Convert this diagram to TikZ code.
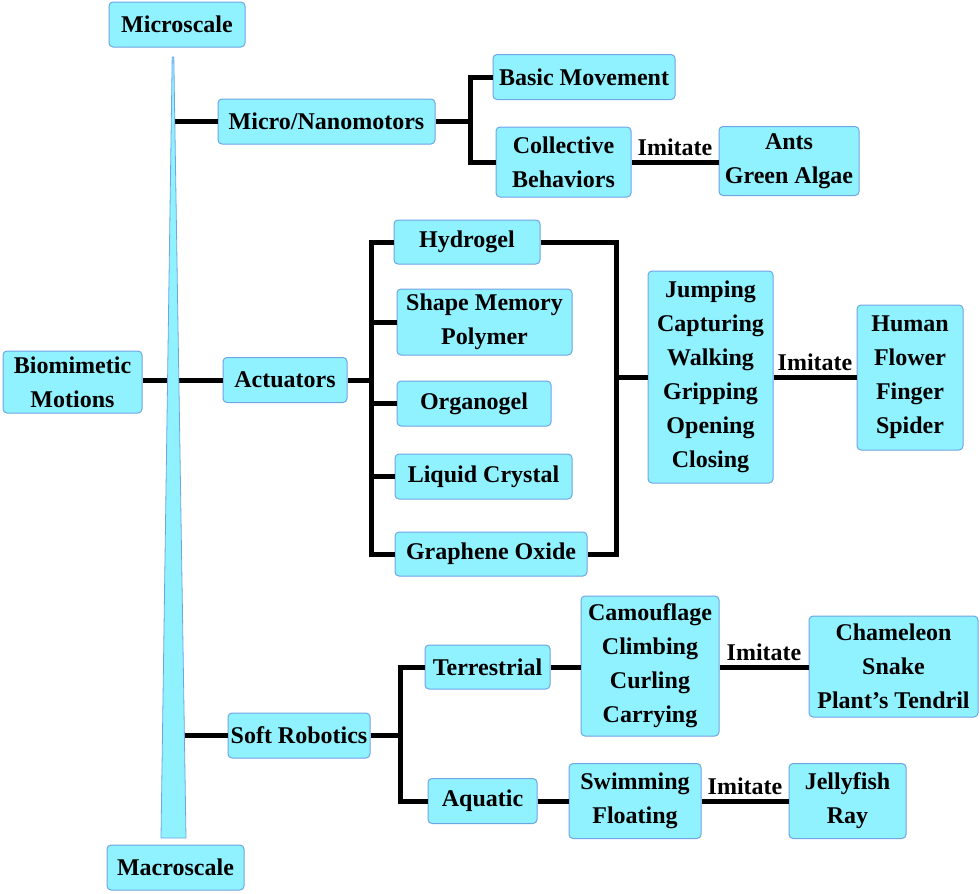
\documentclass[tikz,border=0pt]{standalone}
\usepackage{fontspec}
\setmainfont{Liberation Serif}
\definecolor{boxfill}{RGB}{145,242,255}
\definecolor{boxline}{RGB}{110,165,230}
\begin{document}
\begin{tikzpicture}[x=1pt,y=-1pt,
  box/.style={draw=boxline, fill=boxfill, line width=1pt, rounded corners=4pt,
    inner sep=0pt, align=center, font=\fontsize{24}{34}\selectfont\bfseries},
  conn/.style={line width=5pt, draw=black},
  imit/.style={font=\fontsize{24}{28}\selectfont\bfseries, inner sep=1pt}]
\useasboundingbox (0,0) rectangle (980,894);

% nodes
\node[box, minimum width=136, minimum height=45] (micro) at (177,24.5) {Microscale};
\node[box, minimum width=137, minimum height=45] (macro) at (175.5,867.5) {Macroscale};
\node[box, minimum width=139, minimum height=62] (bio) at (72.5,382) {Biomimetic\\Motions};
\node[box, minimum width=217, minimum height=45] (nano) at (326.5,121.5) {Micro/Nanomotors};
\node[box, minimum width=182, minimum height=45] (basic) at (584,77) {Basic Movement};
\node[box, minimum width=135, minimum height=70] (coll) at (563.5,162) {Collective\\Behaviors};
\node[box, minimum width=140, minimum height=69] (ants) at (789,161) {Ants\\Green Algae};
\node[box, minimum width=124, minimum height=45] (act) at (285,380) {Actuators};
\node[box, minimum width=146, minimum height=44] (hyd) at (467,242) {Hydrogel};
\node[box, minimum width=175, minimum height=66] (smp) at (484.5,322) {Shape Memory\\Polymer};
\node[box, minimum width=154, minimum height=45] (org) at (474,403.5) {Organogel};
\node[box, minimum width=177, minimum height=45] (lc) at (483.5,476.5) {Liquid Crystal};
\node[box, minimum width=192, minimum height=44] (go) at (491,554) {Graphene Oxide};
\node[box, minimum width=125, minimum height=212] (jump) at (710.5,377) {Jumping\\Capturing\\Walking\\Gripping\\Opening\\Closing};
\node[box, minimum width=106, minimum height=145] (human) at (910,377.5) {Human\\Flower\\Finger\\Spider};
\node[box, minimum width=142, minimum height=45] (soft) at (299,735.5) {Soft Robotics};
\node[box, minimum width=125, minimum height=44] (terr) at (487.5,667) {Terrestrial};
\node[box, minimum width=138, minimum height=140] (cam) at (650,666) {Camouflage\\Climbing\\Curling\\Carrying};
\node[box, minimum width=169, minimum height=101] (cham) at (893.5,666.5) {Chameleon\\Snake\\Plant’s Tendril};
\node[box, minimum width=109, minimum height=45] (aq) at (482.5,801) {Aquatic};
\node[box, minimum width=132, minimum height=75] (swim) at (635,801) {Swimming\\Floating};
\node[box, minimum width=117, minimum height=75] (jelly) at (847.5,801) {Jellyfish\\Ray};

% helper coordinates
\coordinate (wtop) at (173,57);
\coordinate (wbl) at (161,838);
\coordinate (wbr) at (186,838);
\coordinate (nb) at (470,121.5);
\coordinate (ab) at (371,380);
\coordinate (rb) at (616,377);
\coordinate (sb) at (400,735.5);

% connectors
\draw[conn] (bio.east |- act.west) -- (act.west);
\draw[conn] (nano.west) -- (nano.west -| wtop);
\draw[conn] (soft.west) -- (soft.west -| wtop);

\draw[conn] (nano.east) -- (nb);
\draw[conn] (basic.west) -- (basic.west -| nb) -- (coll.west -| nb) -- (coll.west);
\draw[conn] (coll.east) -- node[imit, above=3pt] {Imitate} (coll.east -| ants.west);

\draw[conn] (act.east) -- (ab);
\draw[conn] (hyd.west) -- (hyd.west -| ab) -- (go.west -| ab) -- (go.west);
\draw[conn] (smp.west) -- (smp.west -| ab);
\draw[conn] (org.west) -- (org.west -| ab);
\draw[conn] (lc.west) -- (lc.west -| ab);
\draw[conn] (hyd.east) -- (hyd.east -| rb) -- (go.east -| rb) -- (go.east);
\draw[conn] (rb) -- (jump.west);
\draw[conn] (jump.east) -- node[imit, above=3pt] {Imitate} (jump.east -| human.west);

\draw[conn] (soft.east) -- (sb);
\draw[conn] (terr.west) -- (terr.west -| sb) -- (aq.west -| sb) -- (aq.west);
\draw[conn] (terr.east) -- (terr.east -| cam.west);
\draw[conn] (cam.east |- terr.east) -- node[imit, above=3pt] {Imitate} (cham.west |- terr.east);
\draw[conn] (aq.east) -- (aq.east -| swim.west);
\draw[conn] (swim.east) -- node[imit, above=3pt] {Imitate} (swim.east -| jelly.west);

% wedge
\fill[boxfill, draw=boxline, line width=0.8pt] ([xshift=-0.8]wtop) -- ([xshift=0.8]wtop) -- (wbr) -- (wbl) -- cycle;
\end{tikzpicture}
\end{document}
